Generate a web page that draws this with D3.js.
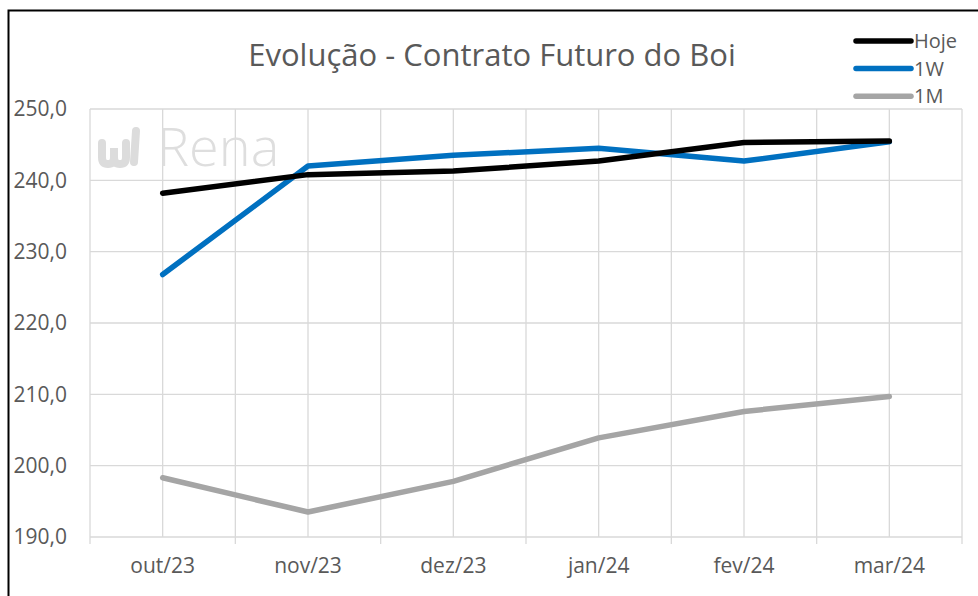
<!DOCTYPE html>
<html>
<head>
<meta charset="utf-8">
<script src="https://cdn.jsdelivr.net/npm/d3@7"></script>
<style>
  body { margin: 0; background: #fff; }
  svg text { font-family: "Open Sans", sans-serif; }
</style>
</head>
<body>
<svg id="chart" width="978" height="596"></svg>
<script>
const months = ["out/23", "nov/23", "dez/23", "jan/24", "fev/24", "mar/24"];
const hoje = [238.2, 240.8, 241.3, 242.7, 245.3, 245.5];
const w1 = [226.8, 242.0, 243.5, 244.5, 242.7, 245.4];
const m1 = [198.3, 193.5, 197.8, 203.9, 207.6, 209.7];
const yTicks = [190, 200, 210, 220, 230, 240, 250];

const series = [
  { name: "Hoje", values: hoje, color: "#000000" },
  { name: "1W", values: w1, color: "#0070c0" },
  { name: "1M", values: m1, color: "#a5a5a5" }
];

const svg = d3.select("#chart");
const plotL = 90, plotR = 962, plotT = 109, plotB = 537;

// outer frame
svg.append("rect").attr("x", 8.5).attr("y", 10.5).attr("width", 990).attr("height", 600)
  .attr("fill", "none").attr("stroke", "#000").attr("stroke-width", 2);

const x = d3.scaleBand().domain(months).range([plotL, plotR]);
const y = d3.scaleLinear().domain([190, 250]).range([plotB, plotT]);

// gridlines: category boundaries and centres
const vx = [];
months.forEach(m => { vx.push(x(m)); vx.push(x(m) + x.bandwidth() / 2); });
vx.push(plotR);
svg.append("g").selectAll("line").data(vx).join("line")
  .attr("x1", d => d).attr("x2", d => d).attr("y1", plotT).attr("y2", plotB)
  .attr("stroke", "#d9d9d9").attr("stroke-width", 1.3);
svg.append("g").selectAll("line").data(yTicks).join("line")
  .attr("x1", plotL).attr("x2", plotR).attr("y1", d => y(d)).attr("y2", d => y(d))
  .attr("stroke", "#d9d9d9").attr("stroke-width", 1.3);

// watermark
const wm = svg.append("g").attr("fill", "none").attr("stroke", "#dcdcdc").attr("stroke-linecap", "round");
wm.append("path").attr("d", "M102,143 L102,157 Q102,164 108,164 Q114,164 114,157 L114,148 L114,157 Q114,164 120,164 Q126,164 126,157 L126,143")
  .attr("stroke-width", 8);
wm.append("path").attr("d", "M136,131 L134,162").attr("stroke-width", 8);
svg.append("text").attr("x", 157).attr("y", 166).attr("font-size", 54)
  .attr("fill", "#dedede").style("font-weight", 300).text("Rena");

// y axis labels
svg.append("g").selectAll("text").data(yTicks).join("text")
  .attr("x", 67).attr("y", d => y(d)).attr("dy", "0.35em").attr("text-anchor", "end")
  .attr("font-size", 21).attr("fill", "#595959")
  .text(d => d3.format(".1f")(d).replace(".", ","));

// x axis
const xAxis = d3.axisBottom(x).tickSize(0).tickPadding(21);
const gx = svg.append("g").attr("transform", `translate(0,${plotB})`).call(xAxis);
gx.select(".domain").remove();
gx.selectAll("text").attr("font-size", 21).attr("fill", "#595959")
  .style("font-family", "'Open Sans', sans-serif");
const bx = months.map(m => x(m)).concat([plotR]);
svg.append("g").selectAll("line").data(bx).join("line")
  .attr("x1", d => d).attr("x2", d => d).attr("y1", plotB).attr("y2", plotB + 7)
  .attr("stroke", "#d9d9d9").attr("stroke-width", 1.3);

// lines
const line = d3.line()
  .x((d, i) => x(months[i]) + x.bandwidth() / 2)
  .y(d => y(d));
[series[2], series[1], series[0]].forEach(s => {
  svg.append("path").attr("d", line(s.values)).attr("fill", "none")
    .attr("stroke", s.color).attr("stroke-width", 5.5)
    .attr("stroke-linecap", "round").attr("stroke-linejoin", "round");
});

// title
svg.append("text").attr("x", 492).attr("y", 66).attr("text-anchor", "middle")
  .attr("font-size", 31).attr("fill", "#595959").text("Evolução - Contrato Futuro do Boi");

// legend
const lg = svg.append("g").selectAll("g").data(series).join("g")
  .attr("transform", (d, i) => `translate(856,${41 + i * 27.6})`);
lg.append("line").attr("x1", 0).attr("x2", 55).attr("stroke", d => d.color)
  .attr("stroke-width", 5.5).attr("stroke-linecap", "round");
lg.append("text").attr("x", 58).attr("dy", "0.36em").attr("font-size", 20)
  .attr("fill", "#595959").text(d => d.name);
</script>
</body>
</html>
